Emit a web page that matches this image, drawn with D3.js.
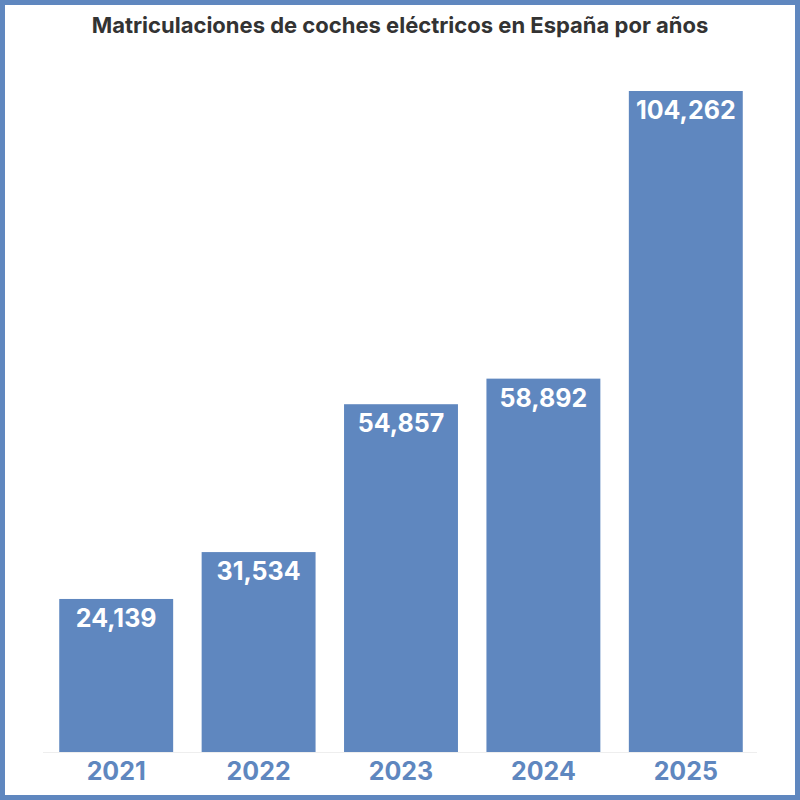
<!DOCTYPE html>
<html>
<head>
<meta charset="utf-8">
<script src="https://cdn.jsdelivr.net/npm/d3@7.9.0/dist/d3.min.js"></script>
<style>
  body { margin: 0; background: #fff; }
  svg { display: block; }
</style>
</head>
<body>
<svg width="800" height="800"></svg>
<script>
const years = ['2021', '2022', '2023', '2024', '2025'];
const registrations = [24139, 31534, 54857, 58892, 104262];
const chartTitle = 'Matriculaciones de coches eléctricos en España por años';

const blue = '#5f87bf';
const svg = d3.select('svg');

// frame
svg.append('rect')
    .attr('x', 2.5).attr('y', 2.5)
    .attr('width', 795).attr('height', 795)
    .attr('fill', 'none').attr('stroke', blue).attr('stroke-width', 5);

svg.append('text')
    .attr('x', 400).attr('y', 33)
    .attr('text-anchor', 'middle')
    .attr('font-family', 'Inter, sans-serif')
    .attr('font-weight', 700)
    .attr('font-size', 22)
    .attr('fill', '#333')
    .text(chartTitle);

let x = d3.scaleBand().domain(years).range([45, 757]).paddingInner(0.2).paddingOuter(0.1);
let y = d3.scaleLinear().domain([0, d3.max(registrations)]).range([752, 91]);

// faint baseline
svg.append('line')
    .attr('x1', 43).attr('x2', 757)
    .attr('y1', 752.5).attr('y2', 752.5)
    .attr('stroke', '#eeeeee');

let data = years.map((yr, i) => ({ year: yr, value: registrations[i] }));

svg.selectAll('rect.bar')
    .data(data)
    .join('rect')
    .attr('class', 'bar')
    .attr('x', d => x(d.year))
    .attr('y', d => y(d.value))
    .attr('width', x.bandwidth())
    .attr('height', d => y(0) - y(d.value))
    .attr('fill', blue);

svg.selectAll('text.val')
    .data(data)
    .join('text')
    .attr('class', 'val')
    .attr('x', d => x(d.year) + x.bandwidth() / 2)
    .attr('y', d => y(d.value) + 28)
    .attr('text-anchor', 'middle')
    .attr('font-family', 'Inter, sans-serif')
    .attr('font-weight', 700)
    .attr('font-size', 25)
    .attr('fill', '#fff')
    .text(d => d3.format(',')(d.value));

svg.selectAll('text.yr')
    .data(data)
    .join('text')
    .attr('class', 'yr')
    .attr('x', d => x(d.year) + x.bandwidth() / 2)
    .attr('y', 780)
    .attr('text-anchor', 'middle')
    .attr('font-family', 'Inter, sans-serif')
    .attr('font-weight', 700)
    .attr('font-size', 25)
    .attr('fill', blue)
    .text(d => d.year);
</script>
</body>
</html>
